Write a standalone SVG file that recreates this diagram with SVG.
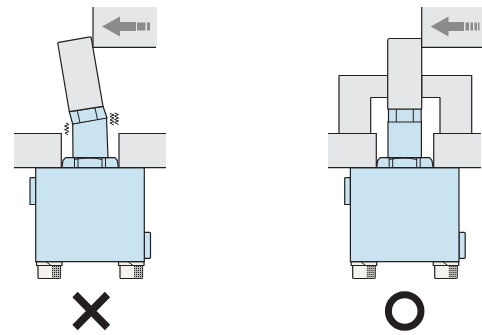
<svg xmlns="http://www.w3.org/2000/svg" xmlns:xlink="http://www.w3.org/1999/xlink" width="482" height="335" viewBox="0 0 482 335">
<style>
.g{fill:#e5e6e7;stroke:#231f20;stroke-width:1.2;stroke-linejoin:round}
.b{fill:#c9e3f0;stroke:#231f20;stroke-width:1.2;stroke-linejoin:round}
.l{fill:none;stroke:#231f20;stroke-width:1.2}
.t{fill:none;stroke:#231f20;stroke-width:1}
.f{fill:#f3f2ec;stroke:#231f20;stroke-width:1.2;stroke-linejoin:round}
.a{fill:#8a8b8d}
.p{fill:#e5e6e7}
</style>
<defs>
<pattern id="dots" width="2" height="2" patternUnits="userSpaceOnUse"><rect width="2" height="2" fill="#bdbdb8"/><rect width="1" height="1" fill="#231f20"/></pattern>
<g id="base">
<path class="b" d="M30 204.500V178.500Q30 177.700 31 177.700H35.700V204.500H31Q30 204.500 30 203.500Z"/>
<path class="b" d="M144.300 232.300H149.500Q150.500 232.300 150.500 233.300V257.300Q150.500 258.300 149.500 258.300H144.300Z"/>
<g id="f1"><path class="f" d="M38 265.500H60.500V277.500Q60.500 278.500 59.500 278.500H39Q38 278.500 38 277.500Z"/><rect x="52" y="265.800" width="8.300" height="12.400" fill="url(#dots)"/><path class="f" d="M36.500 261.700H62V265.500H36.500Z"/><path class="t" d="M46 261.700L51 265.500"/></g>
<use xlink:href="#f1" href="#f1" x="82"/>
<rect class="b" x="35.700" y="167.700" width="108.600" height="94"/>
<path class="b" d="M62 167.500L63 160.500L65.500 157.700H115L117.300 160.500L118.300 167.500Z"/>
<path class="t" d="M74.500 158V167.500M78 158V167.500M102 158V167.500M105.500 158V167.500M74.500 159.500Q90 156.500 102 159.500"/>
</g>
</defs>

<g id="left-assembly">
<use xlink:href="#base" href="#base"/>
<path class="p" d="M14 133.500H61.300V167.500H14ZM119 133.500H166V167.500H119Z"/>
<path class="l" d="M14 133.500H61.300V167.500M166 133.500H119V167.500M14 167.700H166"/>
<path class="b" d="M72.700 124L106.500 117.300L108 157.700H73Z"/>
<path class="b" d="M69.300 111.700L103 106.300L107 118L72.700 124Z"/>
<path class="t" d="M77.300 110.700L80 122.700M95 108L97.500 119.500"/>
<path class="g" d="M58.800 42.300L90 36.900Q91 36.700 91.200 37.700L103 106.300L69.300 111.700L57.800 43.500Q57.700 42.500 58.800 42.300Z"/>
<path class="t" d="M66 123L69 124.500L64.500 126L69 128L64.500 129.500L69 131.500L65 133L68 135"/>
<path class="t" d="M110 113.500L114 115L110 116.500L114 118L110 120L114 121.500L110 123L114 125"/>
<path class="t" d="M114.500 113L118.500 114.500L114.500 116L118.500 118L114.500 119.500L118.500 121L114.500 122.500L118.500 124.500"/>
<g id="left-pusher">
<rect x="93" y="7" width="64" height="40" fill="#e5e6e7"/>
<path class="l" d="M93 7V47.300H156"/>
<path class="a" d="M102 26.500L120 16.500V22H136V31H120V36.500Z"/>
<path class="a" d="M137 22.500H145.500V30.500H137ZM147 22.500H150V30.500H147Z"/>
</g>
</g>

<g id="right-assembly">
<use xlink:href="#base" href="#base" x="314.700"/>
<path class="g" d="M339 133.500V75.500H388V97.500H370.700V133.500Z"/>
<path class="g" d="M471.700 133.500V75.500H421.700V97.500H440V133.500Z"/>
<path class="p" d="M328 133.500H376.300V167.500H328ZM433.700 133.500H481V167.500H433.700Z"/>
<path class="l" d="M328 133.500H376.300V167.500M481 133.500H433.700V167.500M328 167.700H481"/>
<rect class="b" x="388" y="121.500" width="33.400" height="36.200"/>
<rect class="b" x="388.500" y="109" width="32.700" height="13"/>
<path class="t" d="M396.300 109V122M413.300 109V122"/>
<path class="g" d="M387.700 109V40.500Q387.700 38.500 389.700 38.500H421.700V109Z"/>
<g id="right-pusher">
<rect x="421.700" y="7" width="60.300" height="40" fill="#e5e6e7"/>
<path class="l" d="M421.700 7V47.300H482"/>
<path class="a" d="M430.700 26.500L448.500 16.500V22H464V31H448.500V36.500Z"/>
<path class="a" d="M465.500 22.500H469V30.500H465.500ZM470.500 22.500H473V30.500H470.500ZM474.500 22.500H477V30.500H474.500ZM478 22.500H479.500V30.500H478Z"/>
</g>
</g>

<path id="cross" d="M75 294.500L107.500 327.500M107.500 294.500L75 327.500" fill="none" stroke="#231f20" stroke-width="7.500"/>
<circle id="circle" cx="404.700" cy="311" r="16.300" fill="none" stroke="#231f20" stroke-width="7"/>
</svg>
